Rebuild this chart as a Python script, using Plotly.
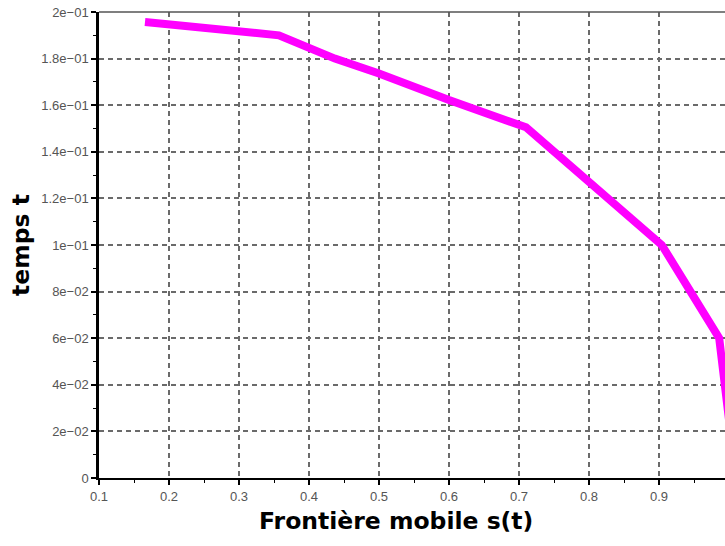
import plotly.graph_objects as go

# Data
s_vals = [0.1657, 0.357, 0.437, 0.50, 0.60, 0.71, 0.904, 0.986, 1.01]
t_vals = [0.1957, 0.1900, 0.1800, 0.1736, 0.1622, 0.1505, 0.100, 0.060, 0.0]

x_ticks = [0.1, 0.2, 0.3, 0.4, 0.5, 0.6, 0.7, 0.8, 0.9, 1.0]
x_ticktext = ["0.1", "0.2", "0.3", "0.4", "0.5", "0.6", "0.7", "0.8", "0.9", "1"]
y_ticks = [0, 0.02, 0.04, 0.06, 0.08, 0.10, 0.12, 0.14, 0.16, 0.18, 0.20]
y_ticktext = ["0", "2e\u221202", "4e\u221202", "6e\u221202", "8e\u221202", "1e\u221201",
              "1.2e\u221201", "1.4e\u221201", "1.6e\u221201", "1.8e\u221201", "2e\u221201"]

W, H = 725, 546
ML, MR, MT, MB = 99, 0, 12, 68
px_per_unit = 700.0
x_max = 0.1 + (W - ML - MR) / px_per_unit

fig = go.Figure()
fig.add_trace(go.Scatter(
    x=s_vals, y=t_vals, mode="lines",
    line=dict(color="#FF00FF", width=8),
    showlegend=False, hoverinfo="skip",
))

tick_font = dict(family="Liberation Sans, Arial", size=13, color="#555555")
title_font = dict(family="DejaVu Sans", size=23.5, color="black")

fig.update_layout(
    width=W, height=H,
    margin=dict(l=ML, r=MR, t=MT, b=MB, pad=0),
    paper_bgcolor="white", plot_bgcolor="white",
    xaxis=dict(
        range=[0.1, x_max], tickvals=x_ticks, ticktext=x_ticktext,
        showgrid=True, gridcolor="#6a6a6a", gridwidth=1.5, griddash="5px,4px",
        showline=True, linecolor="black", linewidth=2,
        ticks="outside", ticklen=5, tickwidth=1.5, tickcolor="black",
        minor=dict(ticks="outside", ticklen=3, tickwidth=1, tickcolor="black",
                   dtick=0.05, tick0=0.1, showgrid=False),
        tickfont=tick_font, zeroline=False,
    ),
    yaxis=dict(
        range=[0, 0.2], tickvals=y_ticks, ticktext=y_ticktext,
        showgrid=True, gridcolor="#6a6a6a", gridwidth=1.5, griddash="5px,4px",
        showline=True, linecolor="black", linewidth=2.5,
        ticks="outside", ticklen=5, tickwidth=1.5, tickcolor="black",
        minor=dict(ticks="outside", ticklen=3, tickwidth=1, tickcolor="black",
                   dtick=0.01, tick0=0, showgrid=False),
        tickfont=tick_font, zeroline=False,
        title=dict(text="<b>temps t</b>", font=title_font, standoff=6),
    ),
    shapes=[dict(type="line", xref="paper", yref="paper", x0=0, x1=1, y0=1, y1=1,
                 line=dict(color="#555555", width=1.5))],
    annotations=[dict(
        text="<b>Frontière mobile s(t)</b>", font=title_font, showarrow=False,
        xref="paper", yref="paper",
        x=(396 - ML) / (W - ML - MR), y=-(521 - (H - MB)) / (H - MT - MB),
        xanchor="center", yanchor="middle",
    )],
)

fig.write_html("out.html")
